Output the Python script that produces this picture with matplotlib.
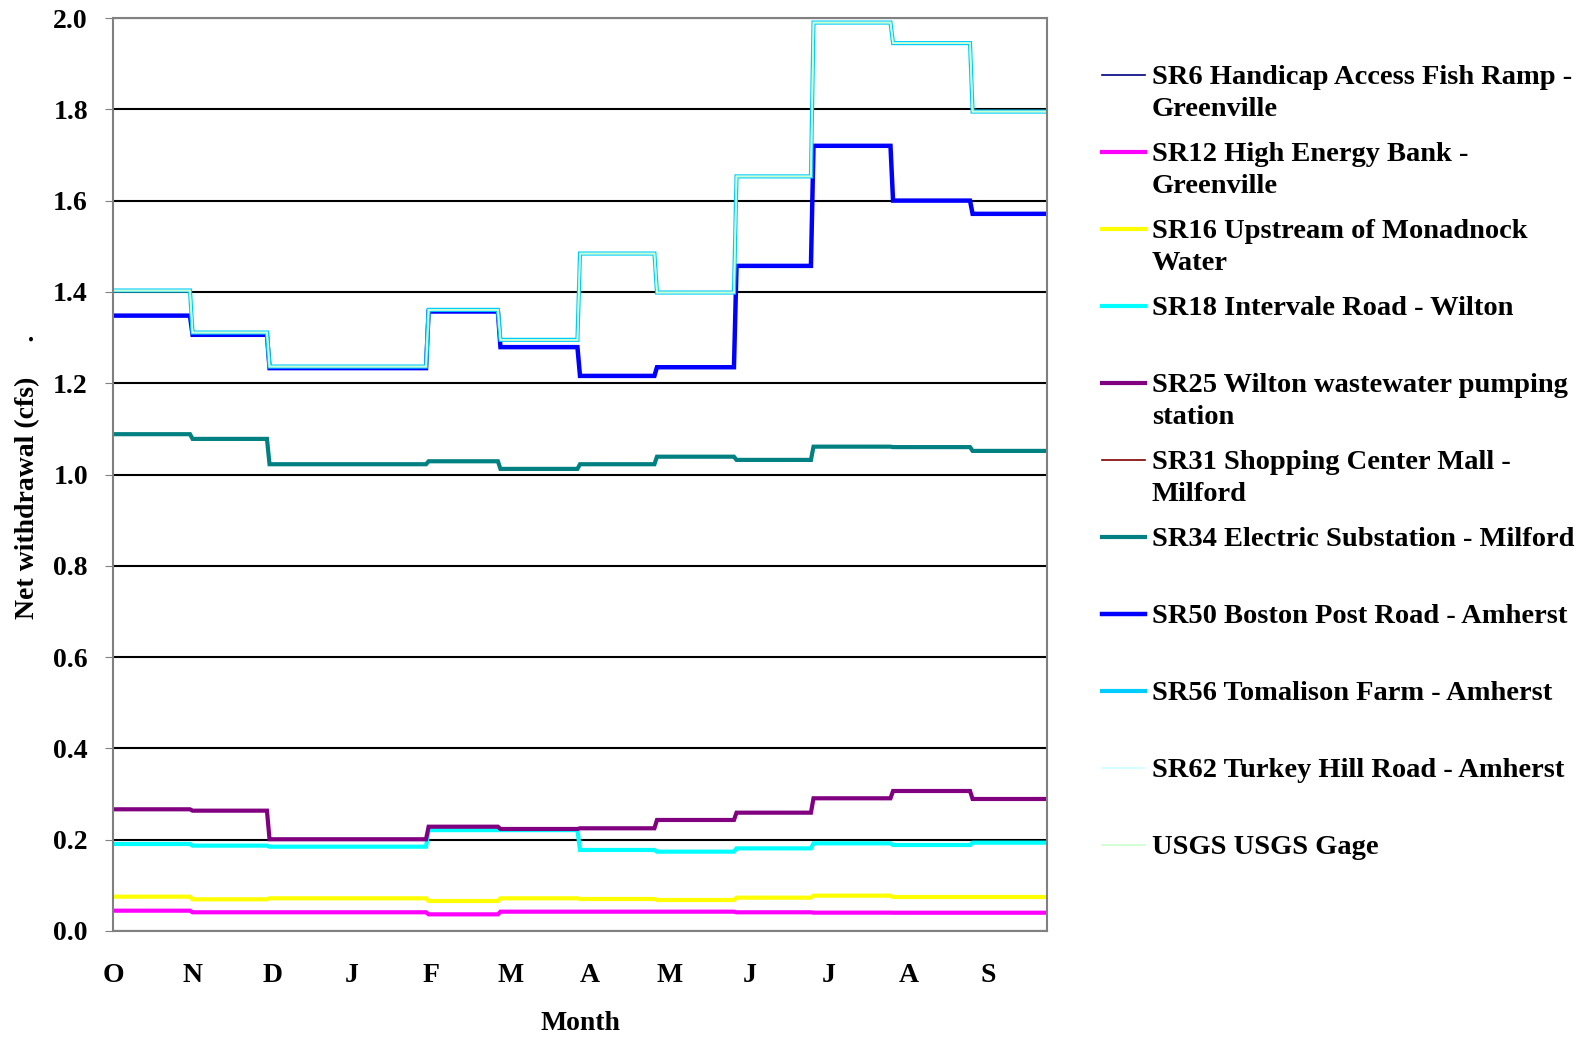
import matplotlib.pyplot as plt
from matplotlib.lines import Line2D
import numpy as np

plt.rcParams['font.family'] = ['Liberation Serif', 'DejaVu Serif']
plt.rcParams['font.weight'] = 'bold'

# meses do ano hidrologico (out -> set)
meses = ['O', 'N', 'D', 'J', 'F', 'M', 'A', 'M', 'J', 'J', 'A', 'S']
dias_mes = [31, 30, 31, 31, 28, 31, 30, 31, 30, 31, 31, 30]

# valores mensais (cfs)
sr6 = []
sr12 = [0.0445, 0.041, 0.041, 0.041, 0.0365, 0.0423, 0.0423, 0.0423, 0.041, 0.0402, 0.040, 0.040]
sr16 = [0.0752, 0.0694, 0.0716, 0.0716, 0.0657, 0.0716, 0.0701, 0.0679, 0.073, 0.0774, 0.0745, 0.0745]
sr18 = [0.1906, 0.187, 0.1847, 0.1847, 0.221, 0.221, 0.1775, 0.1738, 0.181, 0.192, 0.1884, 0.1935]
sr25 = [0.2666, 0.2636, 0.201, 0.201, 0.2285, 0.2235, 0.225, 0.2432, 0.2592, 0.2907, 0.3067, 0.2892]
sr31 = []
sr34 = [1.0883, 1.078, 1.0225, 1.0225, 1.029, 1.0123, 1.0225, 1.039, 1.032, 1.061, 1.060, 1.0517]
sr50 = [1.348, 1.306, 1.233, 1.233, 1.357, 1.279, 1.216, 1.235, 1.457, 1.720, 1.600, 1.571]
sr56 = [1.403, 1.311, 1.2365, 1.2365, 1.3607, 1.295, 1.484, 1.3986, 1.653, 1.990, 1.945, 1.795]
sr62 = sr56
usgs = sr56

nomes = ['SR6 Handicap Access Fish Ramp -\nGreenville',
         'SR12 High Energy Bank -\nGreenville',
         'SR16 Upstream of Monadnock\nWater',
         'SR18 Intervale Road - Wilton',
         'SR25 Wilton wastewater pumping\nstation',
         'SR31 Shopping Center Mall -\nMilford',
         'SR34 Electric Substation - Milford',
         'SR50 Boston Post Road - Amherst',
         'SR56 Tomalison Farm - Amherst',
         'SR62 Turkey Hill Road - Amherst',
         'USGS USGS Gage']
series = [sr6, sr12, sr16, sr18, sr25, sr31, sr34, sr50, sr56, sr62, usgs]
cores = ['#000080', '#FF00FF', '#FFFF00', '#00FFFF', '#800080', '#800000',
         '#008080', '#0000FF', '#00CCFF', '#CCFFFF', '#CCFFCC']
larguras = [1.2, 3, 3, 3, 3, 1.2, 3, 3.2, 3, 1.2, 1.2]

inicio = np.concatenate([[0], np.cumsum(dias_mes)[:-1]])
fim = inicio + np.array(dias_mes) - 1


def degraus(valores):
    x = np.column_stack([inicio, fim]).ravel()
    y = np.repeat(valores, 2)
    return x, y


W, H = 1585, 1037
fig = plt.figure(figsize=(W / 100, H / 100), dpi=100)
ax = fig.add_axes([113 / W, 1 - 931 / H, (1047 - 113) / W, (931 - 18) / H])

for vals, cor, lw in zip(series, cores, larguras):
    if len(vals) == 0:
        continue
    x, y = degraus(vals)
    ax.plot(x, y, color=cor, lw=lw, solid_joinstyle='miter')

ax.set_xlim(0, 364)
ax.set_ylim(0, 2.0)
ax.set_yticks(np.arange(0, 2.01, 0.2))
ax.set_yticklabels(['%.1f' % v for v in np.arange(0, 2.01, 0.2)])
ax.set_xticks(np.arange(12) * 31)
ax.set_xticklabels(meses)
ax.yaxis.grid(True, color='black', lw=1.5)
ax.set_axisbelow(True)
ax.tick_params(axis='y', length=6, color='#808080', pad=12, labelsize=20)
ax.tick_params(axis='x', length=0, pad=23, labelsize=20)
for s in ax.spines.values():
    s.set_color('#808080')
    s.set_linewidth(1.5)

fig.text(27.3 / W, 1 - 476.5 / H, 'Net withdrawal (cfs)     .', rotation=90,
         ha='center', va='center', fontsize=20, fontweight='bold')
fig.text(580 / W, 1 - 1023 / H, 'Month', ha='center', va='center',
         fontsize=20, fontweight='bold')

# legenda desenhada a mao
y0, passo, entre = 74.5, 77.0, 32.3
for i, (nome, cor, lw) in enumerate(zip(nomes, cores, larguras)):
    yc = y0 + i * passo
    fig.add_artist(Line2D([1102 / W, 1145 / W], [1 - yc / H, 1 - yc / H],
                          color=cor, lw=lw, transform=fig.transFigure))
    for j, linha in enumerate(nome.split('\n')):
        fig.text(1152 / W, 1 - (yc + 3 + j * entre) / H, linha, ha='left', va='center',
                 fontsize=20.5, fontweight='bold')

fig.savefig('out.png', dpi=100)
